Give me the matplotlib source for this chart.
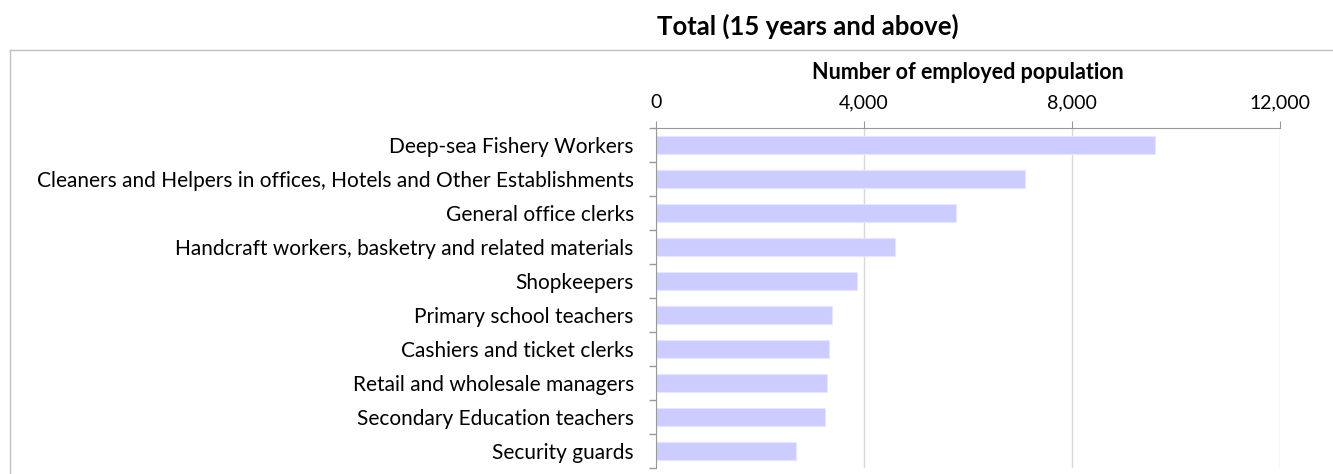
import matplotlib.pyplot as plt
import matplotlib.lines as mlines
from matplotlib.ticker import FuncFormatter, FixedLocator

plt.rcParams['font.family'] = ['Lato', 'DejaVu Sans']

occupations = ["Deep-sea Fishery Workers",
               "Cleaners and Helpers in offices, Hotels and Other Establishments",
               "General office clerks",
               "Handcraft workers, basketry and related materials",
               "Shopkeepers",
               "Primary school teachers",
               "Cashiers and ticket clerks",
               "Retail and wholesale managers",
               "Secondary Education teachers",
               "Security guards"]
employed = [9590, 7100, 5770, 4595, 3865, 3380, 3330, 3290, 3245, 2690]
x_ticks = [0, 4000, 8000, 12000]

fig = plt.figure(figsize=(13.33, 4.74), dpi=100)
ax = fig.add_axes([656 / 1333, 1 - 468 / 474, 624 / 1333, 340 / 474])

pos = list(range(len(occupations)))
ax.barh(pos, employed, height=0.52, color="#ccccff", edgecolor="#e6e6ff", linewidth=0.8, zorder=2)

ax.set_ylim(len(occupations) - 0.5, -0.5)
ax.set_xlim(0, 12000)
ax.xaxis.tick_top()
ax.xaxis.set_label_position("top")
ax.set_xticks(x_ticks)
ax.xaxis.set_major_formatter(FuncFormatter(lambda v, p: "{:,.0f}".format(v)))
ax.set_xlabel("Number of employed population", fontsize=15.5, fontweight="bold", labelpad=11)
ax.tick_params(axis="x", direction="out", length=5, color="#999999", labelsize=14, pad=7)

ax.set_yticks(pos)
ax.set_yticklabels(occupations, fontsize=15)
ax.tick_params(axis="y", which="major", length=0, pad=16)
ax.yaxis.set_minor_locator(FixedLocator([i - 0.5 for i in range(len(occupations) + 1)]))
ax.tick_params(axis="y", which="minor", length=5, color="#999999", width=1)

ax.grid(axis="x", color="#d9d9d9", linewidth=1, zorder=0)
for side in ["right", "bottom"]:
    ax.spines[side].set_visible(False)
ax.spines["left"].set_color("#999999")
ax.spines["top"].set_color("#999999")

# outer frame of the chart area
fy = 1 - 50 / 474
fx = 10 / 1333
fig.add_artist(mlines.Line2D([fx, fx], [0, fy], color="#c0c0c0", linewidth=1))
fig.add_artist(mlines.Line2D([fx, 1], [fy, fy], color="#c0c0c0", linewidth=1))

fig.text(808 / 1333, 1 - 26 / 474, "Total (15 years and above)", fontsize=18.5, fontweight="bold",
         ha="center", va="center")

fig.savefig("out.png", dpi=100)
